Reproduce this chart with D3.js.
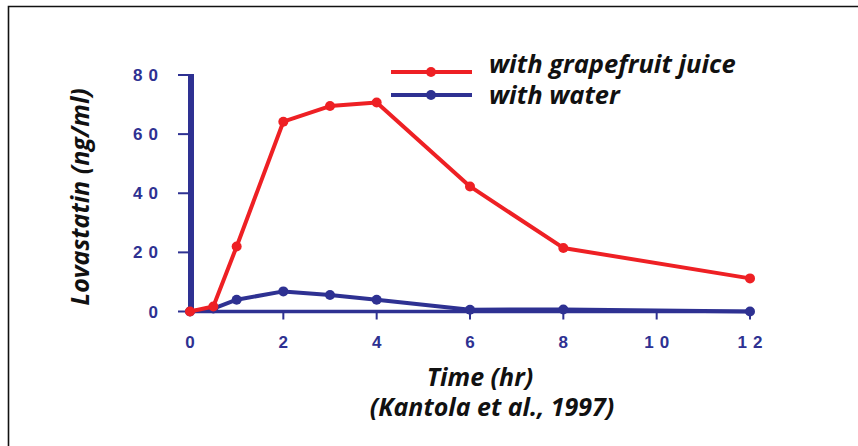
<!DOCTYPE html>
<html>
<head>
<meta charset="utf-8">
<script src="https://cdn.jsdelivr.net/npm/d3@7"></script>
<style>
  body { margin: 0; background: #fff; }
  svg { display: block; }
</style>
</head>
<body>
<svg id="chart"></svg>
<script>
// data
const hours = [0, 0.5, 1, 2, 3, 4, 6, 8, 12];
const grapefruit = [0, 1.7, 22, 64.2, 69.5, 70.7, 42.3, 21.5, 11.2];
const water = [0, 1, 4, 6.8, 5.6, 4, 0.6, 0.7, 0];
const xTicks = [0, 2, 4, 6, 8, 10, 12];
const yTicks = [0, 20, 40, 60, 80];
const seriesNames = ["with grapefruit juice", "with water"];

const width = 858;
const height = 446;
const red = "#ee2024";
const blue = "#2e3192";

const svg = d3.select("#chart")
    .attr("width", width)
    .attr("height", height);

// outer frame (only top and left edges show)
svg.append("path")
    .attr("d", "M8.5,446 V6.5 H858")
    .attr("fill", "none")
    .attr("stroke", "#111")
    .attr("stroke-width", 1.6);

const x = d3.scaleLinear().domain([0, 12]).range([190, 750]);
const y = d3.scaleLinear().domain([0, 80]).range([311.5, 75]);

// x axis
svg.append("line")
    .attr("x1", x(0)).attr("x2", x(12) + 4)
    .attr("y1", y(0)).attr("y2", y(0))
    .attr("stroke", blue).attr("stroke-width", 3.5);

svg.selectAll(".xtick")
    .data(xTicks.slice(1))
    .join("line")
    .attr("x1", d => x(d)).attr("x2", d => x(d))
    .attr("y1", y(0)).attr("y2", y(0) + 8)
    .attr("stroke", blue).attr("stroke-width", 2);

const tickFont = sel => sel
    .attr("font-family", "Liberation Sans, Arial, sans-serif")
    .attr("font-weight", "bold")
    .attr("font-size", 17)
    .attr("fill", blue)
    .style("letter-spacing", "6px");

svg.selectAll(".xlab")
    .data(xTicks)
    .join("text")
    .attr("x", d => x(d) + 3)
    .attr("y", y(0) + 36)
    .attr("text-anchor", "middle")
    .call(tickFont)
    .text(d => d);

// y axis
svg.append("line")
    .attr("x1", x(0) + 1).attr("x2", x(0) + 1)
    .attr("y1", y(80) - 1).attr("y2", y(0) + 2)
    .attr("stroke", blue).attr("stroke-width", 6);

svg.selectAll(".ytick")
    .data(yTicks)
    .join("line")
    .attr("x1", 178).attr("x2", x(0))
    .attr("y1", d => y(d)).attr("y2", d => y(d))
    .attr("stroke", blue).attr("stroke-width", 2);

svg.selectAll(".ylab")
    .data(yTicks)
    .join("text")
    .attr("x", 164)
    .attr("y", d => y(d) + 6)
    .attr("text-anchor", "end")
    .call(tickFont)
    .text(d => d);

// lines
const line = d3.line()
    .x(d => x(d[0]))
    .y(d => y(d[1]));

function drawSeries(values, color) {
    const pts = hours.map((h, i) => [h, values[i]]);
    svg.append("path")
        .datum(pts)
        .attr("d", line)
        .attr("fill", "none")
        .attr("stroke", color)
        .attr("stroke-width", 4)
        .attr("stroke-linejoin", "round");
    svg.append("g")
        .selectAll("circle")
        .data(pts)
        .join("circle")
        .attr("cx", d => x(d[0]))
        .attr("cy", d => y(d[1]))
        .attr("r", 5)
        .attr("fill", color);
}

drawSeries(water, blue);
drawSeries(grapefruit, red);

// text style shared by legend and titles
const titleFont = sel => sel
    .attr("font-family", "Open Sans, sans-serif")
    .attr("font-weight", "bold")
    .attr("font-style", "italic")
    .attr("font-size", 25)
    .attr("fill", "#111");

// legend
const legend = svg.append("g");
[red, blue].forEach((c, i) => {
    const ly = 72 + i * 23;
    legend.append("line")
        .attr("x1", 391).attr("x2", 472)
        .attr("y1", ly).attr("y2", ly)
        .attr("stroke", c).attr("stroke-width", 4);
    legend.append("circle")
        .attr("cx", 431).attr("cy", ly).attr("r", 5).attr("fill", c);
    legend.append("text")
        .attr("x", 489)
        .attr("y", 73 + i * 31)
        .call(titleFont)
        .attr("font-size", 25.5)
        .text(seriesNames[i]);
});

// axis titles
svg.append("text")
    .attr("transform", "translate(89,197) rotate(-90)")
    .call(titleFont)
    .attr("text-anchor", "middle")
    .text("Lovastatin (ng/ml)");

svg.append("text")
    .attr("x", 480).attr("y", 386)
    .call(titleFont)
    .attr("text-anchor", "middle")
    .text("Time (hr)");

svg.append("text")
    .attr("x", 492).attr("y", 416)
    .call(titleFont)
    .attr("text-anchor", "middle")
    .text("(Kantola et al., 1997)");
</script>
</body>
</html>
